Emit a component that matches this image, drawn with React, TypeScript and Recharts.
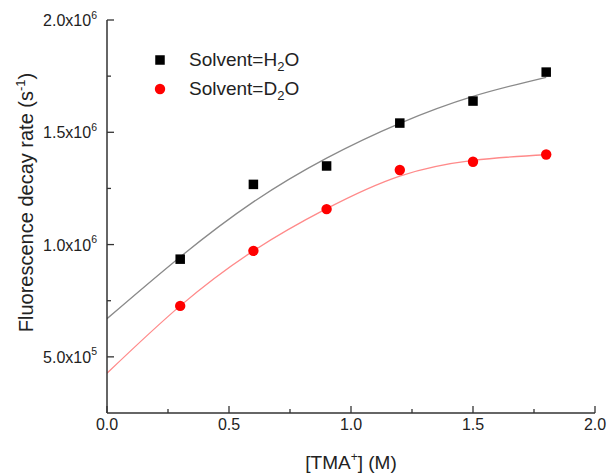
import { ComposedChart, Line, Scatter, XAxis, YAxis, Legend, Label } from 'recharts';

// measured points, [TMA+] in M, decay rate in s^-1
const CONC = [0.3, 0.6, 0.9, 1.2, 1.5, 1.8];
const RATE_H2O = [935000, 1268000, 1350000, 1541000, 1639000, 1768000];
const RATE_D2O = [727000, 972000, 1158000, 1332000, 1369000, 1401000];

// fitted curves
const FIT_CONC = [0, 0.3, 0.6, 0.9, 1.2, 1.5, 1.8];
const FIT_H2O = [670000, 945000, 1190000, 1385000, 1540000, 1660000, 1745000];
const FIT_D2O = [427000, 727000, 972000, 1160000, 1305000, 1375000, 1400000];

const X_MAJOR = [0, 0.5, 1, 1.5, 2];
const X_MAJOR_LABELS = ['0.0', '0.5', '1.0', '1.5', '2.0'];
const X_MINOR = [0.25, 0.75, 1.25, 1.75];

const Y_MAJOR = [500000, 1000000, 1500000, 2000000];
const Y_MANTISSA = ['5.0', '1.0', '1.5', '2.0'];
const Y_EXP = ['5', '6', '6', '6'];
const Y_MINOR = [750000, 1250000, 1750000];

const LEGEND_ITEMS = [
  { pre: 'Solvent=H', sub: '2', post: 'O', marker: 'square' },
  { pre: 'Solvent=D', sub: '2', post: 'O', marker: 'circle' },
];

const AXIS = '#333';
const TEXT = '#222';

const pointsH2O = CONC.map((x, i) => ({ x, y: RATE_H2O[i] }));
const pointsD2O = CONC.map((x, i) => ({ x, y: RATE_D2O[i] }));
const fitH2O = FIT_CONC.map((x, i) => ({ x, y: FIT_H2O[i] }));
const fitD2O = FIT_CONC.map((x, i) => ({ x, y: FIT_D2O[i] }));

const xTicks = [...X_MAJOR, ...X_MINOR].sort((a, b) => a - b);
const yTicks = [...Y_MAJOR, ...Y_MINOR].sort((a, b) => a - b);

function XTick(props: any) {
  const { x, y, payload } = props;
  const i = X_MAJOR.indexOf(payload.value);
  const major = i >= 0;
  return (
    <g>
      <line x1={x} x2={x} y1={y} y2={y - (major ? 7 : 4)} stroke={AXIS} strokeWidth={1.3} />
      {major && (
        <text x={x} y={y + 16.5} textAnchor="middle" fontSize={16} fill={TEXT}>
          {X_MAJOR_LABELS[i]}
        </text>
      )}
    </g>
  );
}

function YTick(props: any) {
  const { x, y, payload } = props;
  const i = Y_MAJOR.indexOf(payload.value);
  const major = i >= 0;
  return (
    <g>
      <line x1={x} x2={x + (major ? 7 : 4)} y1={y} y2={y} stroke={AXIS} strokeWidth={1.3} />
      {major && (
        <text x={x - 10} y={y + 6} textAnchor="end" fontSize={16} fill={TEXT}>
          {Y_MANTISSA[i]}x10
          <tspan dy={-7.5} fontSize={10.5}>
            {Y_EXP[i]}
          </tspan>
        </text>
      )}
    </g>
  );
}

function SquareDot(props: any) {
  const { cx, cy } = props;
  return <rect x={cx - 4.75} y={cy - 4.75} width={9.5} height={9.5} fill="#000" />;
}

function RoundDot(props: any) {
  const { cx, cy } = props;
  return <circle cx={cx} cy={cy} r={5.2} fill="#ff0000" />;
}

function LegendBox() {
  return (
    <div style={{ fontSize: 19, color: TEXT }}>
      {LEGEND_ITEMS.map((it) => (
        <div key={it.pre} style={{ display: 'flex', alignItems: 'center', height: 29 }}>
          <svg width={16} height={16}>
            {it.marker === 'square' ? (
              <rect x={3.25} y={3.25} width={9.5} height={9.5} fill="#000" />
            ) : (
              <circle cx={8} cy={8} r={5.2} fill="#ff0000" />
            )}
          </svg>
          <span style={{ marginLeft: 21, whiteSpace: 'nowrap' }}>
            {it.pre}
            <span style={{ fontSize: 13, position: 'relative', top: 5 }}>{it.sub}</span>
            {it.post}
          </span>
        </div>
      ))}
    </div>
  );
}

export default function App() {
  return (
    <div
      style={{
        position: 'absolute',
        left: 0,
        top: 0,
        width: 608,
        height: 474,
        background: '#fff',
        fontFamily: '"Liberation Sans", Arial, sans-serif',
      }}
    >
      <ComposedChart width={608} height={474} margin={{ top: 20, right: 13, bottom: 0, left: 0 }}>
        <XAxis
          dataKey="x"
          type="number"
          domain={[0, 2]}
          ticks={xTicks}
          interval={0}
          height={61}
          stroke={AXIS}
          strokeWidth={1.5}
          tickLine={false}
          tickSize={0}
          tickMargin={0}
          tick={<XTick />}
          allowDataOverflow
        >
          <Label
            content={(p: any) => {
              const vb = p.viewBox;
              return (
                <text x={vb.x + vb.width / 2} y={vb.y + 56} textAnchor="middle" fontSize={19} fill={TEXT}>
                  [TMA
                  <tspan dy={-8} fontSize={12}>+</tspan>
                  <tspan dy={8}>] (M)</tspan>
                </text>
              );
            }}
          />
        </XAxis>
        <YAxis
          dataKey="y"
          type="number"
          domain={[250000, 2000000]}
          ticks={yTicks}
          interval={0}
          width={107}
          stroke={AXIS}
          strokeWidth={1.5}
          tickLine={false}
          tickSize={0}
          tickMargin={0}
          tick={<YTick />}
          allowDataOverflow
        >
          <Label
            content={(p: any) => {
              const vb = p.viewBox;
              const cy = vb.y + vb.height / 2 - 14;
              return (
                <text
                  x={33}
                  y={cy}
                  transform={`rotate(-90, 33, ${cy})`}
                  textAnchor="middle"
                  fontSize={20}
                  fill={TEXT}
                >
                  Fluorescence decay rate (s
                  <tspan dy={-8} fontSize={13}>-1</tspan>
                  <tspan dy={8}>)</tspan>
                </text>
              );
            }}
          />
        </YAxis>
        <Legend
          layout="vertical"
          align="center"
          verticalAlign="middle"
          wrapperStyle={{ left: 152, top: 45.5, width: 220 }}
          content={() => <LegendBox />}
        />
        <Line
          data={fitH2O}
          dataKey="y"
          type="natural"
          stroke="#8a8a8a"
          strokeWidth={1.3}
          dot={false}
          activeDot={false}
          isAnimationActive={false}
        />
        <Line
          data={fitD2O}
          dataKey="y"
          type="natural"
          stroke="#ff8a8a"
          strokeWidth={1.3}
          dot={false}
          activeDot={false}
          isAnimationActive={false}
        />
        <Scatter data={pointsH2O} dataKey="y" shape={<SquareDot />} isAnimationActive={false} />
        <Scatter data={pointsD2O} dataKey="y" shape={<RoundDot />} isAnimationActive={false} />
      </ComposedChart>
    </div>
  );
}
